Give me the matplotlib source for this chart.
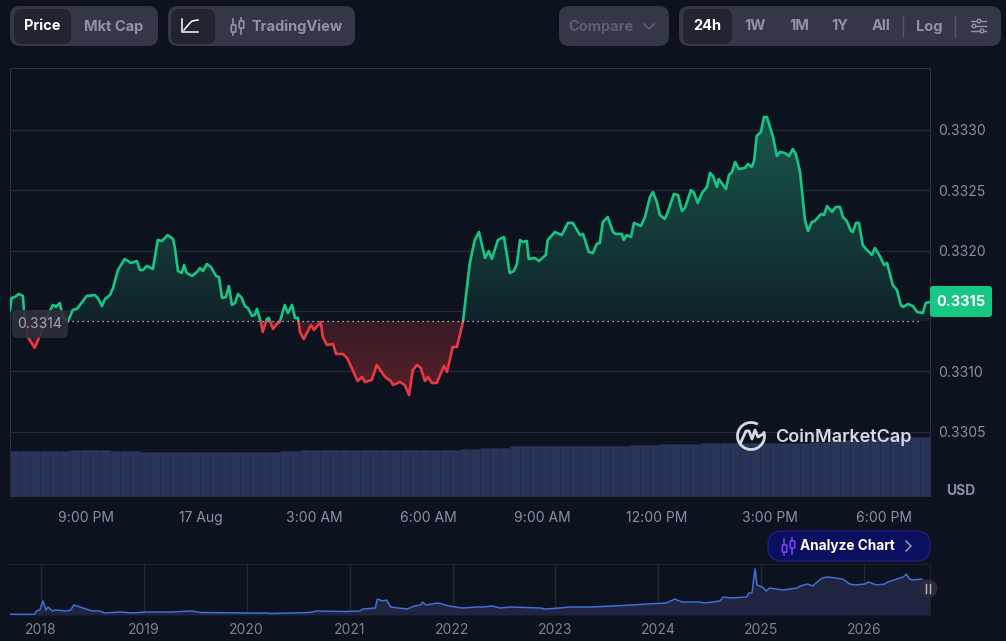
from __future__ import annotations

import matplotlib

matplotlib.use("Agg")
import matplotlib.pyplot as plt
import numpy as np
from matplotlib.patches import Arc, Circle, FancyBboxPatch, Rectangle
from matplotlib.path import Path

W, H = 1006, 641
BG = "#0c121e"
GRID = "#272b38"
FRAME = "#2b303d"
LABEL = "#8b8fa5"
GREEN = "#16c784"
RED = "#ea3943"

# 24h price, hours after midnight on 17 Aug
price_hours = [
    -5.01, -4.97, -4.88, -4.78, -4.67, -4.64, -4.54, -4.36, -4.25, -4.04, -3.88, -3.80, -3.70, -3.62, -3.49,
    -3.36, -3.25, -2.99, -2.78, -2.70, -2.59, -2.51, -2.38, -2.30, -2.17, -1.99, -1.83, -1.67, -1.59, -1.51,
    -1.41, -1.25, -1.12, -1.01, -0.86, -0.72, -0.67, -0.59, -0.49, -0.43, -0.36, -0.22, -0.09, -0.01, 0.07,
    0.17, 0.28, 0.41, 0.49, 0.57, 0.67, 0.75, 0.83, 0.91, 0.99, 1.09, 1.17, 1.25, 1.36, 1.43,
    1.49, 1.59, 1.64, 1.75, 1.80, 1.91, 2.01, 2.09, 2.22, 2.30, 2.41, 2.49, 2.57, 2.62, 2.72,
    2.91, 2.99, 3.17, 3.22, 3.33, 3.49, 3.57, 3.75, 3.86, 4.14, 4.25, 4.33, 4.51, 4.64, 4.86,
    5.01, 5.07, 5.25, 5.38, 5.49, 5.59, 5.70, 5.80, 5.91, 5.99, 6.09, 6.22, 6.41, 6.49, 6.64,
    6.75, 6.91, 6.99, 7.09, 7.22, 7.33, 7.49, 7.59, 7.67, 7.83, 7.99, 8.14, 8.25, 8.33, 8.41,
    8.49, 8.59, 8.64, 8.80, 8.91, 9.09, 9.14, 9.33, 9.51, 9.67, 9.80, 9.99, 10.07, 10.22, 10.33,
    10.43, 10.51, 10.59, 10.72, 10.86, 10.93, 11.09, 11.14, 11.22, 11.33, 11.41, 11.59, 11.70, 11.83, 11.91,
    12.01, 12.09, 12.22, 12.30, 12.46, 12.57, 12.67, 12.75, 12.91, 12.99, 13.09, 13.20, 13.33, 13.41, 13.49,
    13.59, 13.64, 13.83, 13.91, 13.99, 14.07, 14.17, 14.33, 14.41, 14.51, 14.57, 14.64, 14.75, 14.83, 14.91,
    15.07, 15.17, 15.25, 15.38, 15.49, 15.59, 15.67, 15.78, 15.91, 15.99, 16.09, 16.17, 16.33, 16.41, 16.49,
    16.62, 16.72, 16.83, 16.91, 17.01, 17.12, 17.17, 17.25, 17.33, 17.43, 17.54, 17.67, 17.75, 17.88, 17.99,
    18.07, 18.22, 18.33, 18.43, 18.49, 18.62, 18.75, 18.86, 19.01, 19.09, 19.20,
]
price_values = [
    0.331508, 0.331608, 0.331616, 0.331641, 0.331624, 0.331492, 0.331285, 0.331194, 0.331276, 0.331450,
    0.331550, 0.331533, 0.331566, 0.331450, 0.331409, 0.331508, 0.331517, 0.331624, 0.331632, 0.331608,
    0.331541, 0.331599, 0.331632, 0.331690, 0.331839, 0.331931, 0.331897, 0.331914, 0.331839, 0.331839,
    0.331873, 0.331848, 0.332088, 0.332080, 0.332129, 0.332096, 0.332022, 0.331831, 0.331815, 0.331881,
    0.331815, 0.331790, 0.331823, 0.331856, 0.331831, 0.331889, 0.331864, 0.331790, 0.331782, 0.331608,
    0.331616, 0.331707, 0.331550, 0.331566, 0.331641, 0.331608, 0.331541, 0.331525, 0.331459, 0.331467,
    0.331517, 0.331409, 0.331326, 0.331434, 0.331442, 0.331351, 0.331392, 0.331409, 0.331550, 0.331483,
    0.331550, 0.331442, 0.331442, 0.331326, 0.331268, 0.331384, 0.331343, 0.331409, 0.331285, 0.331218,
    0.331227, 0.331144, 0.331144, 0.331111, 0.330920, 0.330954, 0.330912, 0.330929, 0.331053, 0.330954,
    0.330920, 0.330887, 0.330912, 0.330887, 0.330804, 0.331011, 0.331053, 0.331028, 0.330920, 0.330954,
    0.330904, 0.330904, 0.331045, 0.330995, 0.331202, 0.331202, 0.331409, 0.331632, 0.331897, 0.332088,
    0.332154, 0.331939, 0.331997, 0.331931, 0.332088, 0.332113, 0.331815, 0.331831, 0.331889, 0.332088,
    0.332071, 0.332080, 0.331931, 0.331939, 0.331914, 0.331964, 0.332088, 0.332154, 0.332129, 0.332229,
    0.332229, 0.332129, 0.332138, 0.331989, 0.331980, 0.332055, 0.332063, 0.332237, 0.332278, 0.332154,
    0.332138, 0.332138, 0.332088, 0.332129, 0.332113, 0.332229, 0.332204, 0.332278, 0.332444, 0.332485,
    0.332403, 0.332295, 0.332262, 0.332320, 0.332469, 0.332460, 0.332328, 0.332353, 0.332502, 0.332477,
    0.332394, 0.332477, 0.332527, 0.332643, 0.332618, 0.332527, 0.332593, 0.332510, 0.332626, 0.332651,
    0.332734, 0.332676, 0.332684, 0.332717, 0.332692, 0.332742, 0.332949, 0.332982, 0.333106, 0.333106,
    0.332941, 0.332783, 0.332817, 0.332808, 0.332783, 0.332841, 0.332800, 0.332651, 0.332253, 0.332162,
    0.332237, 0.332245, 0.332303, 0.332295, 0.332369, 0.332320, 0.332361, 0.332361, 0.332278, 0.332245,
    0.332162, 0.332154, 0.332229, 0.332229, 0.332046, 0.332005, 0.331964, 0.332022, 0.331955, 0.331881,
    0.331897, 0.331715, 0.331674, 0.331550, 0.331533, 0.331558, 0.331541, 0.331492, 0.331483, 0.331566,
    0.331575,
]
base_price = 0.331417

price_ticks = [0.3305, 0.3310, 0.3315, 0.3320, 0.3325, 0.3330]
# 0.3315 is covered by the live price tag, so the axis label stays empty
price_tick_labels = ["0.3305", "0.3310", "", "0.3320", "0.3325", "0.3330"]
hour_ticks = [-3, 0, 3, 6, 9, 12, 15, 18]
hour_labels = ["9:00 PM", "17 Aug", "3:00 AM", "6:00 AM", "9:00 AM", "12:00 PM", "3:00 PM", "6:00 PM"]

# 24h volume, arbitrary units
volume_values = [
    4.53, 4.53, 4.53, 4.53, 4.53, 4.53, 4.6, 4.6, 4.6, 4.6,
    4.52, 4.5, 4.48, 4.42, 4.42, 4.42, 4.4, 4.4, 4.4, 4.4,
    4.42, 4.42, 4.4, 4.4, 4.42, 4.42, 4.44, 4.48, 4.55, 4.58,
    4.58, 4.58, 4.6, 4.6, 4.58, 4.58, 4.6, 4.6, 4.6, 4.58,
    4.58, 4.6, 4.6, 4.58, 4.62, 4.66, 4.72, 4.76, 4.8, 4.85,
    4.98, 4.98, 4.98, 5.0, 5.0, 5.0, 5.0, 5.0, 5.0, 5.0,
    5.0, 5.02, 5.08, 5.1, 5.1, 5.2, 5.25, 5.25, 5.25, 5.26,
    5.26, 5.26, 5.27, 5.27, 5.28, 5.28, 5.28, 5.3, 5.3, 5.32,
    5.38, 5.45, 5.52, 5.58, 5.62, 5.7, 5.8, 5.92, 5.95, 5.95,
    5.92, 5.9,
]

# all time overview, arbitrary units
history_years = [
    2017.70, 2017.94, 2017.96, 2017.99, 2018.02, 2018.05, 2018.07, 2018.11, 2018.14, 2018.25, 2018.29, 2018.32,
    2018.41, 2018.50, 2018.57, 2018.62, 2018.77, 2018.89, 2019.03, 2019.25, 2019.47, 2019.55, 2020.00, 2020.20,
    2020.23, 2020.61, 2020.68, 2020.97, 2021.10, 2021.13, 2021.25, 2021.27, 2021.32, 2021.36, 2021.40, 2021.47,
    2021.56, 2021.63, 2021.69, 2021.71, 2021.74, 2021.86, 2021.97, 2022.09, 2022.24, 2022.30, 2022.39, 2022.46,
    2022.56, 2022.85, 2022.90, 2023.04, 2023.14, 2023.36, 2023.56, 2023.75, 2023.89, 2024.08, 2024.16, 2024.23,
    2024.40, 2024.45, 2024.60, 2024.63, 2024.70, 2024.86, 2024.88, 2024.91, 2024.94, 2024.96, 2025.01, 2025.05,
    2025.08, 2025.21, 2025.35, 2025.38, 2025.45, 2025.50, 2025.59, 2025.65, 2025.79, 2025.86, 2025.91, 2026.01,
    2026.04, 2026.12, 2026.20, 2026.23, 2026.38, 2026.41, 2026.44, 2026.47, 2026.56, 2026.64,
]
history_values = [
    0.7, 0.7, 4.3, 5, 14, 5, 8, 4, 5, 4, 5, 10,
    7, 4, 4, 2, 3, 2, 3, 3, 4, 2.5, 2, 2,
    1.5, 2.5, 4, 3.5, 4, 6, 7, 16, 14, 15, 8, 7,
    6, 9, 10, 13, 10, 12, 9, 7, 8, 8, 9, 7,
    8, 7, 6, 7, 8, 8, 9, 10, 11, 12, 16, 13,
    13, 12, 14, 18, 17, 18, 22, 22, 46, 30, 28, 24,
    27, 25, 27, 29, 31, 29, 37, 38, 36, 31, 30, 31,
    33, 30, 31, 33, 38, 41, 36, 35, 36, 36,
]
year_ticks = [2018, 2019, 2020, 2021, 2022, 2023, 2024, 2025, 2026]

plt.rcParams["font.family"] = ["Inter", "DejaVu Sans"]
plt.rcParams["axes.unicode_minus"] = False


def px_axes(fig, left, top, right, bottom, zorder):
    ax = fig.add_axes([left / W, 1 - bottom / H, (right - left) / W, (bottom - top) / H], zorder=zorder)
    ax.patch.set_alpha(0)
    return ax


def pill(ax, x0, y0, x1, y1, color, radius=9, edge="none", alpha=1.0):
    ax.add_patch(FancyBboxPatch((x0 + radius, y0 + radius), x1 - x0 - 2 * radius, y1 - y0 - 2 * radius,
                                boxstyle=f"round,pad={radius}", fc=color, ec=edge, alpha=alpha, lw=1))


def candle_icon(ax, cx, cy, color, fill):
    for dx, dy in [(-4.5, 2.5), (3.5, -1.5)]:
        ax.plot([cx + dx, cx + dx], [cy - 8 + dy * 0.3, cy + 8 + dy * 0.3], color=color, lw=1.2)
        ax.add_patch(FancyBboxPatch((cx + dx - 1.6, cy + dy - 3), 3.2, 6, boxstyle="round,pad=0.6",
                                    fc=fill, ec=color, lw=1.2, zorder=3))


fig = plt.figure(figsize=(W / 100, H / 100), dpi=100, facecolor=BG)

# volume sits under the price panel
ax_vol = px_axes(fig, 10, 68, 930, 496, 1)
ax_vol.set_xlim(-5.01, 19.2)
ax_vol.set_ylim(0, 42.8)
ax_vol.axis("off")
vol_x = np.linspace(-5.01, 19.2, len(volume_values) * 2 + 1)[1::2]
ax_vol.bar(vol_x, volume_values, width=24.21 / len(volume_values), color="#2a3358", edgecolor="#232b4d", lw=0.5)

ax = px_axes(fig, 10, 68, 930, 496, 2)
ax.set_xlim(-5.01, 19.2)
ax.set_ylim(0.329968, 0.333512)
ax.set_yticks(price_ticks, price_tick_labels)
ax.set_xticks(hour_ticks, hour_labels)
ax.yaxis.tick_right()
ax.tick_params(axis="both", length=0, labelsize=10, labelcolor=LABEL)
ax.tick_params(axis="y", pad=6)
ax.tick_params(axis="x", pad=11)
ax.grid(axis="y", color=GRID, lw=1)
ax.set_axisbelow(True)
for spine in ax.spines.values():
    spine.set_color(FRAME)

hours = np.array(price_hours)
prices = np.array(price_values)

# gradient fills clipped to the area between price and the open
for above, colors in [(True, ["#10232a", "#17574a"]), (False, ["#5a2029", "#361b26"])]:
    mask = prices >= base_price if above else prices <= base_price
    poly = ax.fill_between(hours, prices, base_price, where=mask, interpolate=True, color="none", lw=0)
    clip = Path.make_compound_path(*poly.get_paths())
    c0 = np.array(matplotlib.colors.to_rgb(colors[0]))
    c1 = np.array(matplotlib.colors.to_rgb(colors[1]))
    ramp = np.linspace(0, 1, 128)[:, None, None]
    img = c0[None, None, :] * (1 - ramp) + c1[None, None, :] * ramp
    if above:
        extent = (-5.01, 19.2, base_price, max(price_values))
    else:
        extent = (-5.01, 19.2, min(price_values), base_price)
    im = ax.imshow(img, extent=extent, origin="lower", aspect="auto", zorder=1.5)
    im.set_clip_path(clip, ax.transData)

ax.set_xlim(-5.01, 19.2)
ax.set_ylim(0.329968, 0.333512)

for color, y0, y1 in [(GREEN, base_price, 0.3335), (RED, 0.3299, base_price)]:
    line, = ax.plot(hours, prices, color=color, lw=1.9, solid_joinstyle="round", zorder=3)
    line.set_clip_path(Rectangle((-5.01, y0), 24.21, y1 - y0, transform=ax.transData))

ax.plot([-3.5, 19.0], [base_price, base_price], color="#d8dae2", lw=0.9, linestyle=(0, (1.0, 3.0)), zorder=4)

# all time overview
ax_hist = px_axes(fig, 10, 564, 930, 615, 2)
ax_hist.set_xlim(2017.70, 2026.64)
ax_hist.set_ylim(0, 51)
ax_hist.set_xticks(year_ticks, [str(y) for y in year_ticks])
ax_hist.set_yticks([])
ax_hist.tick_params(axis="x", length=0, labelsize=10, labelcolor="#7f8391", pad=6)
ax_hist.grid(axis="x", color="#23272f", lw=1)
ax_hist.set_axisbelow(True)
for name, spine in ax_hist.spines.items():
    spine.set_color("#1d212b")
    spine.set_visible(name in ("top", "right"))
ax_hist.fill_between(history_years, history_values, 0, color="#1f2540", lw=0)
ax_hist.plot(history_years[:-1], history_values[:-1], color="#3f6fd8", lw=1.1)

# toolbar, value tags and logo, drawn in pixel space
ui = fig.add_axes([0, 0, 1, 1], zorder=5)
ui.set_xlim(0, W)
ui.set_ylim(H, 0)
ui.axis("off")

PANEL = "#343746"
ACTIVE = "#22242f"
BTN = "#8f93a8"
for x0, x1 in [(10, 158), (168, 355), (559, 669), (679, 1001)]:
    pill(ui, x0, 6, x1, 46, PANEL, radius=10)
for x0, x1 in [(14, 71), (171, 215), (683, 732)]:
    pill(ui, x0, 9, x1, 44, ACTIVE, radius=8)

ui.text(42, 26.5, "Price", color="white", fontsize=10.5, fontweight="bold", ha="center", va="center")
ui.text(114, 26.5, "Mkt Cap", color=BTN, fontsize=10.5, fontweight="bold", ha="center", va="center")
ui.text(297.5, 26.5, "TradingView", color=BTN, fontsize=10.5, fontweight="bold", ha="center", va="center")
ui.text(601.5, 26.5, "Compare", color="#5b5f72", fontsize=10.5, fontweight="bold", ha="center", va="center")
ui.text(707, 26.5, "24h", color="white", fontsize=10.5, fontweight="bold", ha="center", va="center")
for label, x in [("1W", 755), ("1M", 799), ("1Y", 840), ("All", 881), ("Log", 929)]:
    ui.text(x, 26.5, label, color=BTN, fontsize=10.5, fontweight="bold", ha="center", va="center")
for x in (903, 955):
    ui.plot([x, x], [16, 36], color="#555869", lw=1)

ui.plot([182, 182, 198], [19, 32, 32], color="white", lw=1.1)
ui.plot([184, 189, 192, 198], [30, 24, 21, 20], color="white", lw=1.1)
candle_icon(ui, 238, 26, BTN, PANEL)
ui.plot([644, 649, 654], [24, 29, 24], color="#5b5f72", lw=1.2)

for y, knob in [(21, 979), (26, 974), (31, 982)]:
    ui.plot([971, 986], [y, y], color=BTN, lw=1)
    ui.add_patch(Circle((knob, y), 1.8, fc=PANEL, ec=BTN, lw=1, zorder=3))

pill(ui, 12, 310, 68, 338, "#2d2f3a", radius=6, alpha=0.9)
ui.text(40, 324, "0.3314", color="#a3a6b5", fontsize=10, ha="center", va="center")
pill(ui, 930, 286, 992, 317, GREEN, radius=3)
ui.text(961, 302, "0.3315", color="white", fontsize=10.5, fontweight="bold", ha="center", va="center")
ui.text(961, 491, "USD", color=LABEL, fontsize=10, fontweight="bold", ha="center", va="center")

# logo
LOGO = "#d6d9e2"
ui.add_patch(Arc((751, 436), 27, 27, theta1=-20, theta2=300, color=LOGO, lw=2))
ui.plot([741, 746, 749, 752, 755, 758, 763], [442, 431, 431, 439, 430, 437, 434], color=LOGO, lw=2)
ui.text(775, 437, "CoinMarketCap", color=LOGO, fontsize=13, fontweight="semibold", ha="left", va="center")

# analyze button
pill(ui, 768, 531, 930, 561, "#0b0f5f", radius=14, edge="#2a1a80")
candle_icon(ui, 789, 546, "#7b3ff2", "#0b0f5f")
ui.text(847.5, 546, "Analyze Chart", color="white", fontsize=9.8, fontweight="bold", ha="center", va="center")
ui.plot([906, 911, 906], [541, 546, 551], color="#9a9cc0", lw=1.1)

# overview handle
ui.add_patch(Circle((928.5, 588.5), 9, fc="#2a2d37", ec="none"))
for x in (926.5, 930.5):
    ui.plot([x, x], [584, 593], color="#b5b8c4", lw=1)

fig.savefig("out.png", dpi=100, facecolor=BG)
plt.close(fig)
